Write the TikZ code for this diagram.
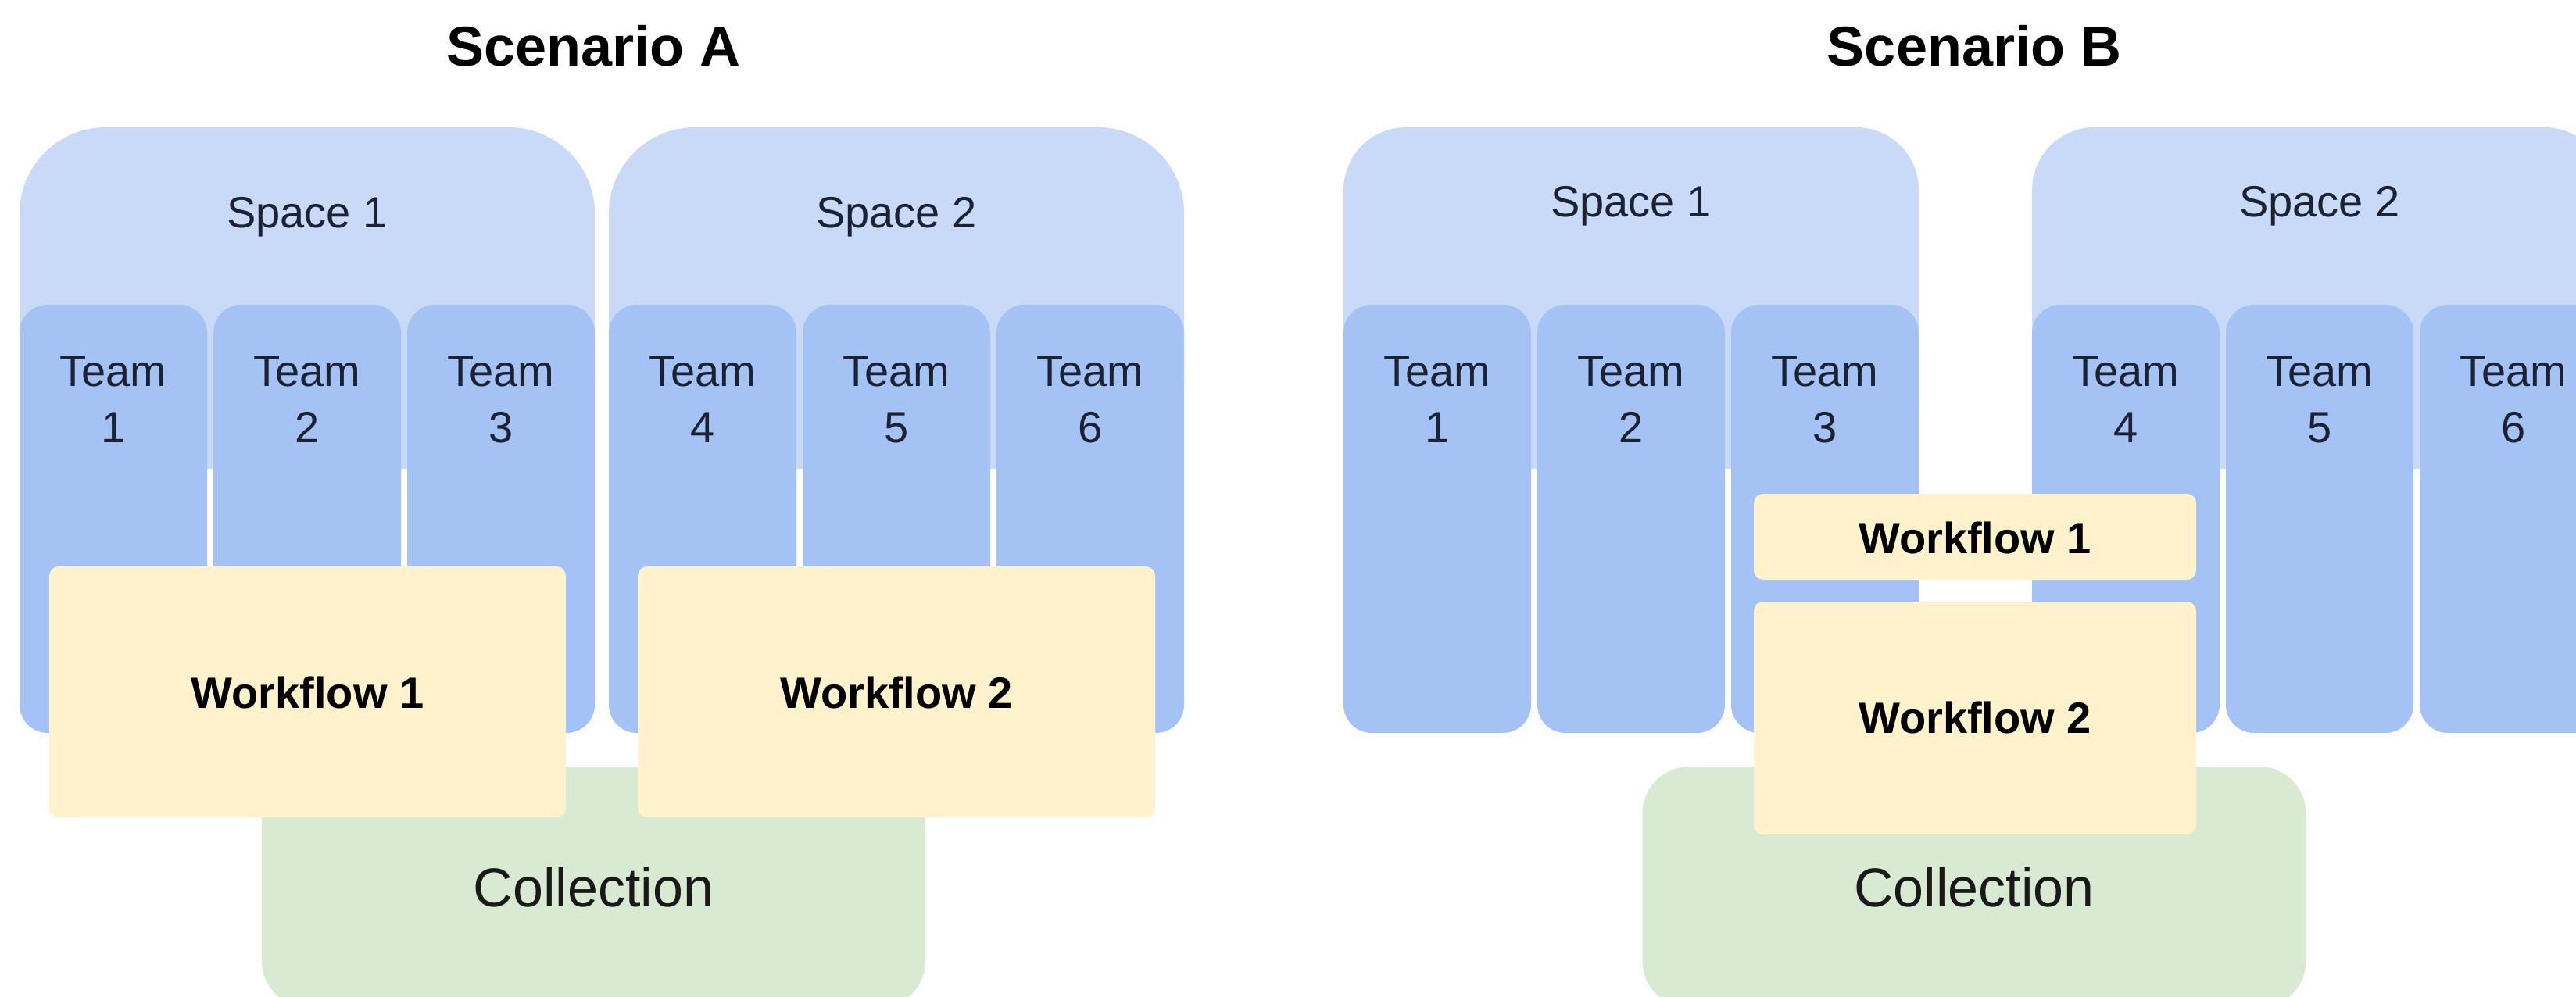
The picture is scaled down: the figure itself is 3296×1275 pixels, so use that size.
\documentclass[tikz,border=0pt]{standalone}
\usepackage{fontspec}
\setmainfont{Liberation Sans}
\definecolor{spacec}{HTML}{C9DAF8}
\definecolor{teamc}{HTML}{A4C2F4}
\definecolor{wfc}{HTML}{FFF2CC}
\definecolor{collc}{HTML}{D9EAD3}
\definecolor{ink}{HTML}{1B2233}
\begin{document}
\begin{tikzpicture}[x=0.25pt, y=-0.25pt,
  box/.style={inner sep=0pt, outer sep=0pt, draw=none},
  sz/.style 2 args={minimum width=#1*0.25pt, minimum height=#2*0.25pt},
  spacebox/.style={box, fill=spacec, sz={736}{437}},
  teambox/.style={box, fill=teamc, rounded corners=9pt, sz={240}{548}},
  wfbox/.style={box, fill=wfc, rounded corners=3pt},
  collbox/.style={box, fill=collc, rounded corners=15pt, sz={849}{309}},
  lbl/.style={anchor=base, inner sep=0pt, text=ink, font=\fontsize{14}{16}\selectfont},
  wflbl/.style={anchor=base, inner sep=0pt, text=black, font=\bfseries\fontsize{14}{16}\selectfont},
  colllbl/.style={anchor=base, inner sep=0pt, text=black!90, font=\fontsize{17.5}{20}\selectfont},
  titlelbl/.style={anchor=base, inner sep=0pt, text=black, font=\bfseries\fontsize{18}{21}\selectfont}]
\useasboundingbox (0,0) rectangle (3296,1275);
\clip (0,0) rectangle (3296,1275);

% ---------- Scenario A ----------
\node[titlelbl] (titleA) at (759.5,84) {Scenario A};
\node[spacebox, rounded corners=27.5pt] (sA1) at (393,381.5) {};
\node[spacebox, rounded corners=27.5pt] (sA2) at (1147,381.5) {};
\node[lbl] (sA1l) at (393,291) {Space 1};
\node[lbl] (sA2l) at (1147,291) {Space 2};
\foreach \n/\x in {1/145,2/393,3/641,4/899,5/1147,6/1395}{
  \node[teambox] (tA\n) at (\x,664) {};
  \node[lbl] (tA\n-w) at (\x,494) {Team};
  \node[lbl] (tA\n-n) at (\x,566) {\n};
}
\node[collbox] (cA) at (759.5,1135.5) {};
\node[colllbl] (cAl) at (759.5,1160) {Collection};
\node[wfbox, sz={661}{321}] (wA1) at (393.5,885.5) {};
\node[wfbox, sz={662}{321}] (wA2) at (1147,885.5) {};
\node[wflbl] (wA1l) at (393.5,906) {Workflow 1};
\node[wflbl] (wA2l) at (1147,906) {Workflow 2};

% ---------- Scenario B ----------
\node[titlelbl] (titleB) at (2526,84) {Scenario B};
\node[spacebox, rounded corners=20pt] (sB1) at (2087,381.5) {};
\node[spacebox, rounded corners=20pt] (sB2) at (2968,381.5) {};
\node[lbl] (sB1l) at (2087,277) {Space 1};
\node[lbl] (sB2l) at (2968,277) {Space 2};
\foreach \n/\x in {1/1839,2/2087,3/2335,4/2720,5/2968,6/3216}{
  \node[teambox] (tB\n) at (\x,664) {};
  \node[lbl] (tB\n-w) at (\x,494) {Team};
  \node[lbl] (tB\n-n) at (\x,566) {\n};
}
\node[collbox] (cB) at (2526,1135.5) {};
\node[colllbl] (cBl) at (2526,1160) {Collection};
\node[wfbox, sz={566}{110}] (wB1) at (2527,687) {};
\node[wfbox, sz={566}{298}] (wB2) at (2527,919) {};
\node[wflbl] (wB1l) at (2527,708) {Workflow 1};
\node[wflbl] (wB2l) at (2527,938) {Workflow 2};
\end{tikzpicture}
\end{document}
